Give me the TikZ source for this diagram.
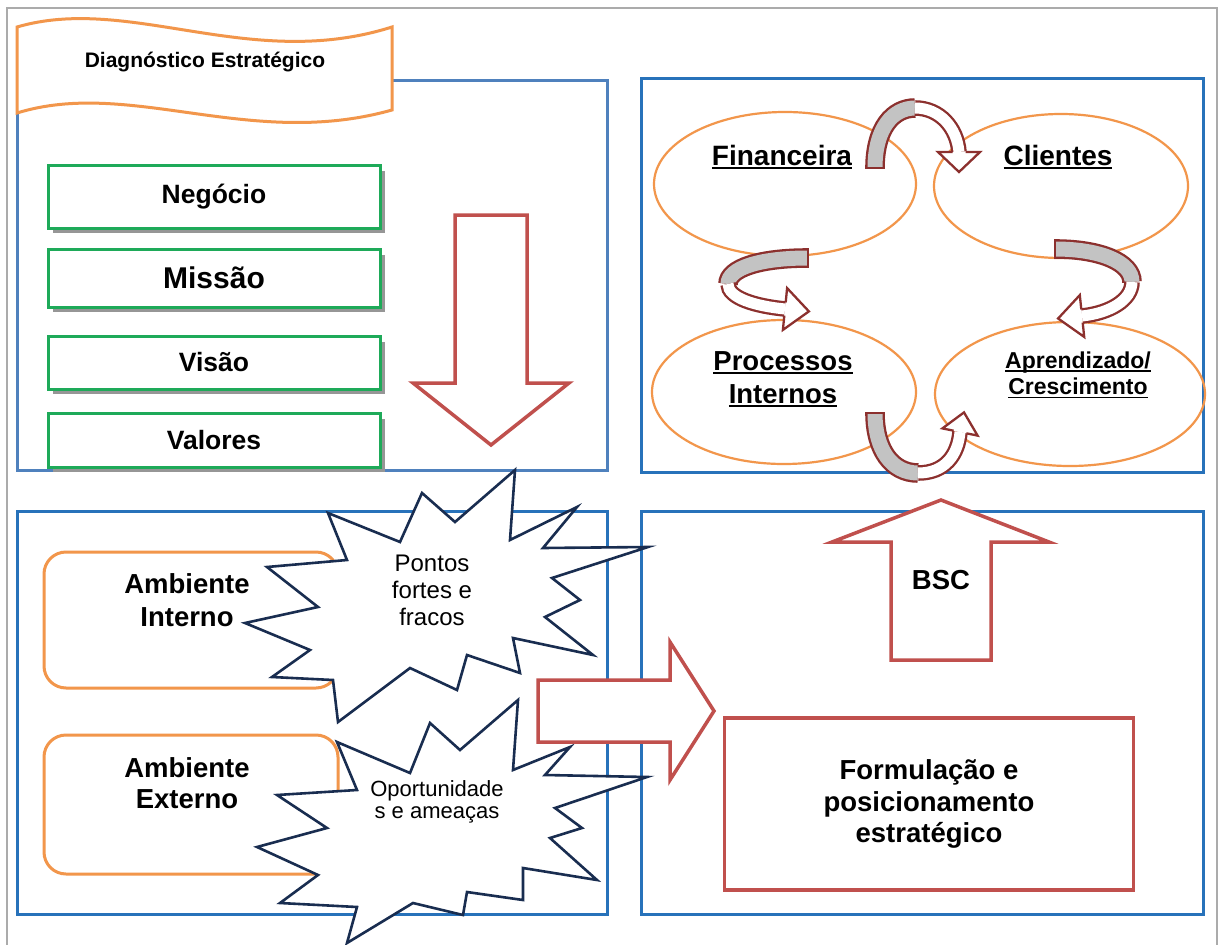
\documentclass[tikz,border=0pt]{standalone}
\usepackage{fontspec}
\setmainfont{Liberation Sans}
\newsavebox{\ulinebox}
% underline at a fixed depth below the baseline
\newcommand{\uline}[1]{\sbox{\ulinebox}{#1}\rlap{\rule[-3.5pt]{\wd\ulinebox}{1.6pt}}\usebox{\ulinebox}}
\definecolor{frameblue}{RGB}{40,114,186}
\definecolor{steelblue}{RGB}{79,129,189}
\definecolor{orangeline}{RGB}{242,150,75}
\definecolor{greenline}{RGB}{30,170,89}
\definecolor{redline}{RGB}{192,80,77}
\definecolor{ribbon}{RGB}{140,48,46}
\definecolor{ribbongray}{RGB}{195,195,195}
\definecolor{starline}{RGB}{25,45,80}
\definecolor{shadowgray}{RGB}{150,150,150}
\newcommand{\fs}[1]{\fontsize{#1pt}{\dimexpr #1pt*115/100\relax}\selectfont}
\tikzset{
  panel/.style={draw=frameblue, line width=3},
  greenbox/.style={draw=greenline, line width=3, fill=white, minimum width=332, inner sep=0},
  boxshadow/.style={fill=shadowgray},
  envbox/.style={draw=orangeline, line width=3, rounded corners=22},
  persp/.style={draw=orangeline, line width=2.2},
  blockarrow/.style={draw=redline, line width=3.5, fill=white, line join=miter},
  burst/.style={draw=starline, line width=2.6, fill=white, line join=miter},
  backband/.style={draw=ribbon, line width=2.3, double=ribbongray, double distance=15},
  frontband/.style={draw=ribbon, line width=2.3, double=white, double distance=11},
  bandend/.style={draw=ribbon, line width=2.3},
  head/.style={draw=ribbon, line width=2.3, fill=white, line join=miter},
  lbl/.style={font=\bfseries\fs{27.5}, align=center, inner sep=0},
}
\begin{document}
\begin{tikzpicture}[x=1pt,y=-1pt]
\useasboundingbox (0,0) rectangle (1219,945);
\fill[white] (0,0) rectangle (1219,945);

% outer frame
\draw[shadowgray!80, line width=2] (7,945) -- (7,8) -- (1217,8) -- (1217,945);

% four panels
\draw[draw=steelblue, line width=3] (17,80) rectangle (607,470);
\draw[panel] (641,78) rectangle (1203,472);
\draw[panel] (17,511) rectangle (607,914);
\draw[panel] (641,511) rectangle (1203,914);

% ---------- strategic diagnosis panel ----------
\foreach \t/\b in {165/228, 249/307, 336/389, 413/467}{
  \fill[boxshadow] (53,\t+6) rectangle (385,\b+5);
}
\node[greenbox, minimum height=63] (negocio) at (214,196.5) {};
\node[lbl, font=\bfseries\fs{26.5}] at (negocio) {Negócio};
\node[greenbox, minimum height=58] (missao) at (214,278) {};
\node[lbl, font=\bfseries\fs{30}] at (missao) {Missão};
\node[greenbox, minimum height=53] (visao) at (214,362.5) {};
\node[lbl, font=\bfseries\fs{26.5}] at (visao) {Visão};
\node[greenbox, minimum height=54] (valores) at (214,440) {};
\node[lbl, font=\bfseries\fs{26.5}] at (valores) {Valores};

% banner
\draw[draw=orangeline, line width=3, fill=white]
  (17,27) .. controls (130,-6) and (250,72) .. (392,27)
  -- (392,110) .. controls (250,150) and (130,78) .. (17,113) -- cycle;
\node[lbl, font=\bfseries\fs{21}] (diag) at (205,62) {Diagnóstico Estratégico};

% down arrow
\draw[blockarrow] (455,215) -- (527,215) -- (527,383) -- (569,383) -- (491,445)
  -- (413,383) -- (455,383) -- cycle;

% ---------- BSC perspectives ----------
\draw[persp] (785,184) ellipse [x radius=131, y radius=72];
\draw[persp] (1061,186) ellipse [x radius=127, y radius=72];
\draw[persp] (784,392) ellipse [x radius=132, y radius=72];
\draw[persp] (1070,394) ellipse [x radius=135, y radius=72];
\node[lbl, font=\bfseries\fs{28}] (fin) at (782,157) {\uline{Financeira}};
\node[lbl, font=\bfseries\fs{28}] (cli) at (1058,157) {\uline{Clientes}};
\node[lbl, font=\bfseries\fs{27.5}, align=center] (proc) at (783,379)
  {\uline{Processos}\\[1pt]\uline{Internos}};
\node[lbl, font=\bfseries\fs{23}, align=center] (apr) at (1078,375)
  {\uline{Aprendizado/}\\[0pt]\uline{Crescimento}};

% ribbons: top
\draw[backband] (875,168) .. controls (875,128) and (893,108) .. (915,108);
\draw[frontband] (915,108) .. controls (940,108) and (957,128) .. (959,152);
\draw[bandend] (865,168) -- (885,168);
\draw[head] (952.5,152) -- (938,152) -- (959,172) -- (980,152) -- (965.5,152);
% ribbons: left
\draw[backband] (808,258) .. controls (760,258) and (728,268) .. (728,284);
\draw[frontband] (728,284) .. controls (728,298) and (755,306) .. (785,309);
\draw[bandend] (808,248) -- (808,268);
\draw[head] (784.3,315.6) -- (782.9,329.9) -- (808.9,311.4) -- (787.1,288.1) -- (785.7,302.4);
% ribbons: right
\draw[backband] (1055,249) .. controls (1100,249) and (1132,262) .. (1132,282);
\draw[frontband] (1132,282) .. controls (1132,300) and (1110,313) .. (1082,316);
\draw[bandend] (1055,239) -- (1055,259);
\draw[head] (1082.7,322.6) -- (1084.2,336.9) -- (1058.1,318.5) -- (1079.8,295.1) -- (1081.3,309.4);
% ribbons: bottom
\draw[backband] (875,413) .. controls (875,450) and (892,473) .. (918,473);
\draw[frontband] (918,473) .. controls (945,473) and (958,455) .. (960,432);
\draw[bandend] (865,413) -- (885,413);
\draw[head] (966.4,433.3) -- (977.6,435.6) -- (964,412.4) -- (942.4,428.4) -- (953.6,430.7);

% ---------- environment analysis panel ----------
\draw[envbox] (44,552) rectangle (338,688);
\draw[envbox] (44,735) rectangle (338,874);
\node[lbl] (amb1) at (187,600) {Ambiente\\[2pt]Interno};
\node[lbl] (amb2) at (187,783) {Ambiente\\[0pt]Externo};

% bursts
\draw[burst] (328,513) -- (400,542) -- (422,493) -- (455,522) -- (515,470) -- (510,540)
  -- (577,507) -- (543,548) -- (648,547) -- (552,578) -- (580,600) -- (545,617)
  -- (593,655) -- (513,638) -- (520,673) -- (467,655) -- (457,690) -- (410,668)
  -- (338,722) -- (333,680) -- (272,677) -- (310,650) -- (245,623) -- (318,607)
  -- (267,567) -- (347,560) -- cycle;
\node[align=center, inner sep=0, font=\fs{24}] (forcas) at (432,590)
  {Pontos\\[-0.5pt]fortes e\\[-0.5pt]fracos};
\draw[burst] (337,742) -- (410,773) -- (430,723) -- (460,750) -- (518,700) -- (513,770)
  -- (570,747) -- (545,775) -- (647,777) -- (555,808) -- (582,828) -- (550,838)
  -- (597,880) -- (523,868) -- (523,900) -- (467,892) -- (463,915) -- (413,903)
  -- (347,943) -- (357,907) -- (280,903) -- (318,875) -- (257,847) -- (327,828)
  -- (277,795) -- (357,790) -- cycle;
\node[align=center, inner sep=0, font=\fs{22}] (oport) at (437,802)
  {Oportunidade\\[-4pt]s e ameaças};

% right arrow into formulation
\draw[blockarrow] (538,680) -- (670,680) -- (670,642) -- (714,711) -- (670,780)
  -- (670,742) -- (538,742) -- cycle;

% ---------- formulation panel ----------
\draw[blockarrow] (891,660) -- (891,542) -- (832,542) -- (941,500) -- (1049,542)
  -- (991,542) -- (991,660) -- cycle;
\node[lbl] (bsc) at (941,580) {BSC};
\node[draw=redline, line width=3.5, minimum width=409, minimum height=172, inner sep=0]
  (form) at (929,804) {};
\node[lbl, align=center] at (form) {Formulação e\\[0pt]posicionamento\\[0pt]estratégico};
\end{tikzpicture}
\end{document}
